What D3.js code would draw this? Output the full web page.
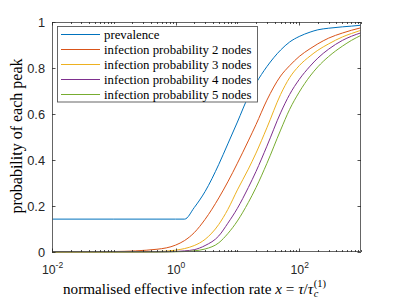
<!DOCTYPE html>
<html><head><meta charset="utf-8">
<script src="https://cdn.jsdelivr.net/npm/d3@7"></script>
<style>
html,body{margin:0;padding:0;background:#fff;}
svg{display:block;}
</style></head>
<body>
<svg id="c" width="399" height="299"></svg>
<script>
// ---- data ----
const rates = [0.01, 0.1, 0.5, 1, 1.4, 2, 3, 5, 7, 10, 15, 20, 30, 50, 70, 100, 150, 200, 300, 500, 700, 1000];
const prevalence = [0.143, 0.143, 0.143, 0.143, 0.143, 0.193, 0.263, 0.381, 0.47, 0.565, 0.675, 0.734, 0.806, 0.878, 0.913, 0.937, 0.956, 0.966, 0.973, 0.979, 0.982, 0.986];
const infect2 = [0, 0.002, 0.012, 0.03, 0.05, 0.084, 0.142, 0.235, 0.305, 0.386, 0.483, 0.554, 0.66, 0.765, 0.81, 0.85, 0.884, 0.905, 0.93, 0.952, 0.964, 0.975];
const infect3 = [0, 0, 0.002, 0.008, 0.015, 0.028, 0.055, 0.12, 0.185, 0.27, 0.36, 0.43, 0.54, 0.685, 0.758, 0.81, 0.852, 0.877, 0.905, 0.935, 0.95, 0.964];
const infect4 = [0, 0, 0, 0.002, 0.005, 0.01, 0.028, 0.07, 0.125, 0.19, 0.28, 0.35, 0.46, 0.605, 0.685, 0.75, 0.808, 0.843, 0.882, 0.92, 0.938, 0.953];
const infect5 = [0, 0, 0, 0.001, 0.002, 0.005, 0.013, 0.04, 0.08, 0.135, 0.215, 0.28, 0.385, 0.53, 0.62, 0.695, 0.765, 0.805, 0.85, 0.895, 0.92, 0.942];
const seriesNames = ["prevalence", "infection probability 2 nodes", "infection probability 3 nodes", "infection probability 4 nodes", "infection probability 5 nodes"];
const seriesColors = ["#0072BD", "#D95319", "#EDB120", "#7E2F8E", "#77AC30"];
const yTicks = [0, 0.2, 0.4, 0.6, 0.8, 1];
const yTickLabels = ["0", "0.2", "0.4", "0.6", "0.8", "1"];
const xTickExps = [-2, 0, 2];

const allSeries = [prevalence, infect2, infect3, infect4, infect5];

// ---- layout ----
const L = 52, R = 361, T = 22, B = 252;
const svg = d3.select("#c");
const x = d3.scaleLog().domain([0.01, 1000]).range([L, R]);
const y = d3.scaleLinear().domain([0, 1]).range([B, T]);
const axisCol = "#262626";
const sans = "'Liberation Sans', Arial, sans-serif";
const serif = "'Liberation Serif', 'Times New Roman', serif";

// curves
const line = d3.line().x(d => x(d[0])).y(d => y(d[1])).curve(d3.curveMonotoneX);
allSeries.forEach((s, i) => {
  svg.append("path")
    .attr("d", line(rates.map((r, j) => [r, s[j]])))
    .attr("fill", "none")
    .attr("stroke", seriesColors[i])
    .attr("stroke-width", 1);
});

// axes box + ticks
const g = svg.append("g").attr("stroke", axisCol).attr("fill", "none");
g.append("rect").attr("x", L + 0.5).attr("y", T + 0.5).attr("width", R - L - 1).attr("height", B - T - 1)
  .attr("stroke-width", 0.9).attr("stroke", "#555");

// x ticks
const minor = [];
for (let e = -2; e < 3; e++) for (let k = 1; k <= 9; k++) minor.push(k * Math.pow(10, e));
minor.push(1000);
minor.forEach(v => {
  const isMajor = xTickExps.some(e => Math.abs(Math.log10(v) - e) < 1e-9);
  const len = isMajor ? 3.5 : 2;
  const px = Math.round(x(v)) + 0.5;
  g.append("line").attr("x1", px).attr("x2", px).attr("y1", B).attr("y2", B - len).attr("stroke-width", 0.8);
  g.append("line").attr("x1", px).attr("x2", px).attr("y1", T).attr("y2", T + len).attr("stroke-width", 0.8);
});
// y ticks
yTicks.forEach(v => {
  const py = Math.round(y(v)) + 0.5;
  g.append("line").attr("x1", L).attr("x2", L + 3.5).attr("y1", py).attr("y2", py).attr("stroke-width", 0.8);
  g.append("line").attr("x1", R).attr("x2", R - 3.5).attr("y1", py).attr("y2", py).attr("stroke-width", 0.8);
});

// y tick labels
yTicks.forEach((v, i) => {
  svg.append("text").attr("x", L - 7).attr("y", y(v) + 4.5)
    .attr("text-anchor", "end").attr("font-family", sans).attr("font-size", 12.8)
    .attr("fill", axisCol).text(yTickLabels[i]);
});
// x tick labels 10^e
xTickExps.forEach(e => {
  const t = svg.append("text").attr("y", 273.5).attr("font-family", sans).attr("fill", axisCol);
  t.append("tspan").attr("font-size", 12.3).text("10");
  t.append("tspan").attr("font-size", 8.5).attr("dy", -6).text(String(e));
  const w = t.node().getComputedTextLength();
  t.attr("x", x(Math.pow(10, e)) - w / 2 + 0.5);
});

// y label
svg.append("text")
  .attr("transform", `translate(21.5,${(T + B) / 2 - 1}) rotate(-90)`)
  .attr("text-anchor", "middle").attr("font-family", serif).attr("font-size", 16)
  .attr("fill", "#000").text("probability of each peak");

// x label
const xl = svg.append("text").attr("x", 63).attr("y", 293.5).attr("font-family", serif).attr("font-size", 15.2).attr("fill", "#000");
xl.append("tspan").text("normalised effective infection rate ");
xl.append("tspan").attr("font-style", "italic").text("x");
xl.append("tspan").text(" = ");
xl.append("tspan").attr("font-style", "italic").text("τ");
xl.append("tspan").text("/");
xl.append("tspan").attr("font-style", "italic").text("τ");
const sc = xl.append("tspan").attr("font-style", "italic").attr("font-size", 10.5).attr("dx", 0.5).attr("dy", 3).text("c");
const cw = sc.node().getComputedTextLength();
xl.append("tspan").attr("font-size", 10.5).attr("dx", -cw).attr("dy", -10).text("(1)");

// legend
const lg = svg.append("g");
lg.append("rect").attr("x", 57.5).attr("y", 26.5).attr("width", 200).attr("height", 75.5)
  .attr("fill", "#fff").attr("stroke", "#555").attr("stroke-width", 0.9);
seriesNames.forEach((n, i) => {
  const ry = 34.5 + 15 * i;
  lg.append("line").attr("x1", 61).attr("x2", 100).attr("y1", ry).attr("y2", ry)
    .attr("stroke", seriesColors[i]).attr("stroke-width", 1);
  lg.append("text").attr("x", 104).attr("y", ry + 4).attr("font-family", serif).attr("font-size", 12.8)
    .attr("fill", "#000").text(n);
});
</script>
</body></html>
